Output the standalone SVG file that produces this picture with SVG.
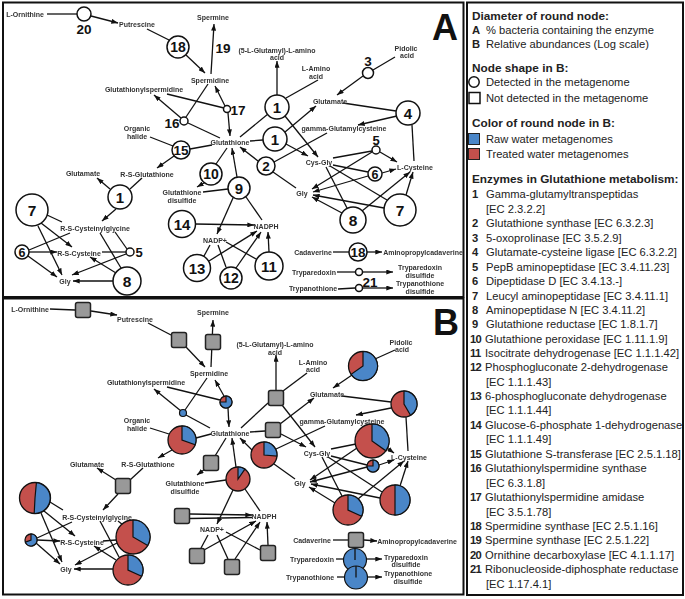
<svg xmlns="http://www.w3.org/2000/svg" width="685" height="599" viewBox="0 0 685 599">
<style>
.frame{fill:none;stroke:#111;stroke-width:2}
.l{stroke:#111;stroke-width:1.3;fill:none}
.a{marker-end:url(#ah)}
.t{font-family:"Liberation Sans",Arial,sans-serif;font-weight:bold;font-size:7px;fill:#333;text-anchor:middle}
.n{font-family:"Liberation Sans",Arial,sans-serif;font-weight:bold;fill:#111;text-anchor:middle}
.c{fill:#fff;stroke:#111;stroke-width:1.5}
.sq{fill:#999;stroke:#222;stroke-width:1.5}
.r{fill:#c4504c;stroke:#111;stroke-width:1.3}
.b{fill:#4a86c8;stroke:#111;stroke-width:1.2}
.big{font-family:"Liberation Sans",Arial,sans-serif;font-weight:bold;font-size:36px;fill:#111}
.lh{font-family:"Liberation Sans",Arial,sans-serif;font-weight:bold;font-size:11.8px;fill:#222}
.li{font-family:"Liberation Sans",Arial,sans-serif;font-size:11.2px;fill:#222}
.lb{font-weight:bold}
.gs{filter:url(#gray)}
</style>
<defs>
<marker id="ah" viewBox="0 0 8 6" refX="8" refY="3" markerWidth="7" markerHeight="5" orient="auto" markerUnits="userSpaceOnUse"><path d="M0,0 L8,3 L0,6 z" fill="#111"/></marker>
<filter id="gray" x="-5%" y="-5%" width="110%" height="110%"><feColorMatrix type="saturate" values="0"/></filter>
</defs>
<rect width="685" height="599" fill="#fff"/>
<rect class="frame" x="3" y="2.5" width="460.5" height="294.5"/>
<rect class="frame" x="3" y="298.5" width="460.5" height="296"/>
<rect class="frame" x="467" y="2.5" width="216" height="592.5"/>
<text class="big" x="432" y="40">A</text>
<text class="big" x="433" y="335">B</text>

<!-- ================= PANEL A connectors ================= -->
<g id="connectors-A">
<line class="l" x1="47" y1="14" x2="77" y2="14"/>
<line class="l a" x1="91" y1="16" x2="118" y2="23"/>
<line class="l" x1="147" y1="29" x2="169" y2="40"/>
<line class="l a" x1="186" y1="55" x2="205" y2="73"/>
<line class="l a" x1="211" y1="74" x2="214" y2="24"/>
<line class="l" x1="167" y1="94" x2="224" y2="108"/>
<line class="l a" x1="181" y1="118" x2="154" y2="95"/>
<line class="l" x1="186" y1="117" x2="208" y2="84"/>
<line class="l a" x1="225" y1="106" x2="215" y2="86"/>
<line class="l a" x1="228" y1="113" x2="230" y2="136"/>
<line class="l" x1="188" y1="123" x2="220" y2="138"/>
<line class="l" x1="150" y1="137" x2="173" y2="146"/>
<line class="l" x1="190" y1="149" x2="212" y2="145"/>
<line class="l a" x1="174" y1="156" x2="157" y2="168"/>
<line class="l" x1="240" y1="137" x2="268" y2="114"/>
<line class="l" x1="250" y1="141" x2="263" y2="140"/>
<line class="l" x1="318" y1="80" x2="286" y2="98"/>
<line class="l a" x1="277" y1="95" x2="277" y2="61"/>
<line class="l a" x1="285" y1="116" x2="318" y2="157"/>
<line class="l a" x1="285" y1="132" x2="316" y2="106"/>
<line class="l a" x1="286" y1="144" x2="308" y2="156"/>
<line class="l a" x1="363" y1="76" x2="337" y2="95"/>
<line class="l" x1="395" y1="57" x2="373" y2="70"/>
<line class="l" x1="343" y1="103" x2="396" y2="111"/>
<line class="l a" x1="397" y1="116" x2="358" y2="125"/>
<line class="l" x1="412" y1="125" x2="414" y2="161"/>
<line class="l" x1="327" y1="133" x2="274" y2="162"/>
<line class="l" x1="296" y1="188" x2="273" y2="172"/>
<line class="l a" x1="258" y1="161" x2="240" y2="147"/>
<line class="l a" x1="237" y1="177" x2="232" y2="148"/>
<line class="l" x1="216" y1="164" x2="227" y2="148"/>
<line class="l a" x1="204" y1="183" x2="197" y2="187"/>
<line class="l" x1="203" y1="192" x2="228" y2="189"/>
<line class="l a" x1="233" y1="198" x2="217" y2="234"/>
<line class="l" x1="262" y1="220" x2="246" y2="197"/>
<line class="l a" x1="195" y1="224" x2="254" y2="225"/>
<line class="l" x1="210" y1="245" x2="204" y2="256"/>
<line class="l" x1="218" y1="245" x2="226" y2="267"/>
<line class="l a" x1="209" y1="261" x2="257" y2="231"/>
<line class="l a" x1="236" y1="268" x2="261" y2="232"/>
<line class="l" x1="226" y1="242" x2="256" y2="259"/>
<line class="l a" x1="269" y1="252" x2="268" y2="232"/>
<line class="l a" x1="110" y1="189" x2="97" y2="178"/>
<line class="l" x1="142" y1="178" x2="130" y2="189"/>
<line class="l a" x1="116" y1="209" x2="102" y2="221"/>
<line class="l" x1="47" y1="215" x2="62" y2="222"/>
<line class="l a" x1="41" y1="223" x2="72" y2="247"/>
<line class="l a" x1="38" y1="226" x2="62" y2="275"/>
<line class="l" x1="29" y1="250" x2="70" y2="233"/>
<line class="l a" x1="29" y1="252" x2="57" y2="252"/>
<line class="l a" x1="28" y1="256" x2="57" y2="277"/>
<line class="l" x1="115" y1="232" x2="127" y2="249"/>
<line class="l" x1="102" y1="252" x2="126" y2="252"/>
<line class="l a" x1="126" y1="254" x2="72" y2="275"/>
<line class="l" x1="100" y1="233" x2="121" y2="268"/>
<line class="l a" x1="116" y1="273" x2="90" y2="257"/>
<line class="l a" x1="113" y1="281" x2="73" y2="281"/>
<line class="l" x1="333" y1="158" x2="372" y2="151"/>
<line class="l a" x1="380" y1="152" x2="397" y2="162"/>
<line class="l a" x1="372" y1="152" x2="312" y2="189"/>
<line class="l" x1="333" y1="165" x2="368" y2="172"/>
<line class="l a" x1="382" y1="173" x2="396" y2="169"/>
<line class="l a" x1="368" y1="176" x2="313" y2="192"/>
<line class="l" x1="330" y1="166" x2="387" y2="200"/>
<line class="l a" x1="406" y1="195" x2="413" y2="172"/>
<line class="l a" x1="384" y1="208" x2="313" y2="195"/>
<line class="l" x1="326" y1="167" x2="347" y2="208"/>
<line class="l a" x1="362" y1="211" x2="410" y2="172"/>
<line class="l a" x1="342" y1="213" x2="312" y2="197"/>
<line class="l" x1="333" y1="252" x2="349" y2="252"/>
<line class="l a" x1="367" y1="252" x2="382" y2="252"/>
<line class="l" x1="337" y1="272" x2="355" y2="272"/>
<line class="l a" x1="363" y1="272" x2="393" y2="272"/>
<line class="l" x1="338" y1="289" x2="355" y2="288"/>
<line class="l a" x1="363" y1="288" x2="393" y2="288"/>
</g>

<!-- ================= PANEL A enzyme nodes ================= -->
<g id="A-e20"><circle class="c" cx="84" cy="14" r="7"/><text class="n" x="84" y="34" font-size="13.5">20</text></g>
<g id="A-e18"><circle class="c" cx="178" cy="47" r="11"/><text class="n" x="178" y="52" font-size="14">18</text></g>
<g id="A-e19"><text class="n" x="223" y="53" font-size="13.5">19</text></g>
<g id="A-e17"><circle class="c" cx="227" cy="109" r="3.5"/><text class="n" x="238" y="115" font-size="13.5">17</text></g>
<g id="A-e16"><circle class="c" cx="184" cy="121" r="4"/><text class="n" x="172" y="128" font-size="13.5">16</text></g>
<g id="A-e15"><circle class="c" cx="181" cy="150" r="9"/><text class="n" x="181" y="155" font-size="13.5">15</text></g>
<g id="A-e1a"><circle class="c" cx="277" cy="107" r="12"/><text class="n" x="277" y="112.5" font-size="15">1</text></g>
<g id="A-e1b"><circle class="c" cx="275" cy="139" r="12"/><text class="n" x="275" y="144.5" font-size="15">1</text></g>
<g id="A-e2"><circle class="c" cx="266" cy="166" r="9"/><text class="n" x="266" y="171" font-size="13.5">2</text></g>
<g id="A-e10"><circle class="c" cx="211" cy="174" r="11"/><text class="n" x="211" y="179" font-size="14">10</text></g>
<g id="A-e9"><circle class="c" cx="239" cy="188" r="11"/><text class="n" x="239" y="193.5" font-size="15">9</text></g>
<g id="A-e3"><circle class="c" cx="368" cy="73" r="5.5"/><text class="n" x="368" y="66" font-size="13.5">3</text></g>
<g id="A-e4"><circle class="c" cx="408" cy="113" r="12"/><text class="n" x="408" y="118.5" font-size="15">4</text></g>
<g id="A-e5r"><circle class="c" cx="376" cy="150" r="4"/><text class="n" x="376" y="145" font-size="13">5</text></g>
<g id="A-e6r"><circle class="c" cx="375" cy="174" r="7"/><text class="n" x="375" y="178.5" font-size="12.5">6</text></g>
<g id="A-e7r"><circle class="c" cx="400" cy="210" r="16"/><text class="n" x="400" y="215.5" font-size="15.5">7</text></g>
<g id="A-e8r"><circle class="c" cx="353" cy="220" r="13"/><text class="n" x="353" y="225.5" font-size="15.5">8</text></g>
<g id="A-e14"><circle class="c" cx="182" cy="224" r="13.5"/><text class="n" x="182" y="229.5" font-size="15">14</text></g>
<g id="A-e13"><circle class="c" cx="197" cy="268" r="13.5"/><text class="n" x="197" y="273.5" font-size="15">13</text></g>
<g id="A-e12"><circle class="c" cx="231" cy="278" r="11"/><text class="n" x="231" y="283" font-size="14">12</text></g>
<g id="A-e11"><circle class="c" cx="269" cy="266" r="14"/><text class="n" x="269" y="271.5" font-size="15">11</text></g>
<g id="A-e1c"><circle class="c" cx="120" cy="197" r="12"/><text class="n" x="120" y="202.5" font-size="15">1</text></g>
<g id="A-e7l"><circle class="c" cx="32" cy="210" r="16"/><text class="n" x="32" y="215.5" font-size="15.5">7</text></g>
<g id="A-e6l"><circle class="c" cx="22" cy="252" r="7"/><text class="n" x="22" y="256.5" font-size="12.5">6</text></g>
<g id="A-e5l"><circle class="c" cx="130" cy="252" r="4"/><text class="n" x="139" y="257" font-size="13">5</text></g>
<g id="A-e8l"><circle class="c" cx="127" cy="281" r="14"/><text class="n" x="127" y="286.5" font-size="15.5">8</text></g>
<g id="A-e18b"><circle class="c" cx="358" cy="252" r="9"/><text class="n" x="358" y="257" font-size="13.5">18</text></g>
<g id="A-e21"><circle class="c" cx="359" cy="272" r="3.5"/><circle class="c" cx="359" cy="288" r="3.5"/><text class="n" x="370" y="287" font-size="13.5">21</text></g>

<!-- ================= PANEL A metabolites ================= -->
<g id="A-metabolites" class="gs">
<text class="t" x="25" y="16.5">L-Ornithine</text>
<text class="t" x="137" y="26.5">Putrescine</text>
<text class="t" x="213" y="19.5">Spermine</text>
<text class="t" x="210" y="82.5">Spermidine</text>
<text class="t" x="144" y="91.5">Glutathionylspermidine</text>
<text class="t" x="277" y="52.5">(5-L-Glutamyl)-L-amino</text>
<text class="t" x="277" y="60">acid</text>
<text class="t" x="316" y="70.5">L-Amino</text>
<text class="t" x="316" y="78.5">acid</text>
<text class="t" x="406" y="50.5">Pidolic</text>
<text class="t" x="407" y="58">acid</text>
<text class="t" x="330" y="103.5">Glutamate</text>
<text class="t" x="344" y="130.5">gamma-Glutamylcysteine</text>
<text class="t" x="137" y="130.5">Organic</text>
<text class="t" x="137" y="138.5">halide</text>
<text class="t" x="230" y="144.5">Glutathione</text>
<text class="t" x="319" y="164.5">Cys-Gly</text>
<text class="t" x="415" y="169.5">L-Cysteine</text>
<text class="t" x="302" y="195.5">Gly</text>
<text class="t" x="182" y="194.5">Glutathione</text>
<text class="t" x="182" y="203">disulfide</text>
<text class="t" x="266" y="228.5">NADPH</text>
<text class="t" x="215" y="242.5">NADP+</text>
<text class="t" x="83" y="175.5">Glutamate</text>
<text class="t" x="147" y="176.5">R-S-Glutathione</text>
<text class="t" x="95" y="230.5">R-S-Cysteinylglycine</text>
<text class="t" x="79" y="255.5">R-S-Cysteine</text>
<text class="t" x="65" y="283.5">Gly</text>
<text class="t" x="313" y="254.5">Cadaverine</text>
<text class="t" x="423" y="254.5">Aminopropylcadaverine</text>
<text class="t" x="314" y="274.5">Tryparedoxin</text>
<text class="t" x="420" y="270">Tryparedoxin</text>
<text class="t" x="420" y="278">disulfide</text>
<text class="t" x="313" y="291">Trypanothione</text>
<text class="t" x="420" y="286">Trypanothione</text>
<text class="t" x="420" y="293.5">disulfide</text>
</g>

<!-- ================= PANEL B connectors ================= -->
<g id="connectors-B">
<line class="l" x1="50" y1="309" x2="75" y2="310"/>
<line class="l a" x1="91" y1="311" x2="117" y2="315"/>
<line class="l" x1="148" y1="323" x2="171" y2="335"/>
<line class="l a" x1="186" y1="347" x2="205" y2="367"/>
<line class="l a" x1="211" y1="367" x2="213" y2="320"/>
<line class="l" x1="167" y1="387" x2="220" y2="400"/>
<line class="l a" x1="181" y1="411" x2="154" y2="389"/>
<line class="l" x1="185" y1="410" x2="207" y2="378"/>
<line class="l a" x1="224" y1="396" x2="215" y2="380"/>
<line class="l a" x1="228" y1="408" x2="229" y2="427"/>
<line class="l" x1="186" y1="415" x2="210" y2="428"/>
<line class="l" x1="150" y1="428" x2="169" y2="434"/>
<line class="l" x1="196" y1="438" x2="211" y2="434"/>
<line class="l a" x1="172" y1="450" x2="158" y2="458"/>
<line class="l" x1="241" y1="428" x2="268" y2="403"/>
<line class="l" x1="250" y1="432" x2="265" y2="431"/>
<line class="l" x1="307" y1="373" x2="283" y2="391"/>
<line class="l a" x1="276" y1="390" x2="276" y2="355"/>
<line class="l a" x1="282" y1="405" x2="315" y2="447"/>
<line class="l a" x1="280" y1="424" x2="314" y2="398"/>
<line class="l a" x1="281" y1="434" x2="306" y2="447"/>
<line class="l a" x1="352" y1="375" x2="333" y2="388"/>
<line class="l" x1="395" y1="350" x2="375" y2="359"/>
<line class="l" x1="342" y1="396" x2="391" y2="402"/>
<line class="l a" x1="391" y1="408" x2="356" y2="415"/>
<line class="l" x1="406" y1="417" x2="408" y2="451"/>
<line class="l" x1="325" y1="426" x2="276" y2="449"/>
<line class="l" x1="295" y1="479" x2="274" y2="464"/>
<line class="l a" x1="252" y1="450" x2="240" y2="438"/>
<line class="l a" x1="236" y1="467" x2="232" y2="438"/>
<line class="l" x1="215" y1="456" x2="226" y2="438"/>
<line class="l a" x1="205" y1="469" x2="197" y2="475"/>
<line class="l" x1="205" y1="483" x2="226" y2="480"/>
<line class="l a" x1="233" y1="490" x2="217" y2="524"/>
<line class="l" x1="260" y1="511" x2="245" y2="489"/>
<line class="l a" x1="190" y1="514" x2="252" y2="515"/>
<line class="l" x1="190" y1="518.5" x2="252" y2="517.5"/>
<line class="l" x1="208" y1="535" x2="201" y2="548"/>
<line class="l" x1="217" y1="535" x2="228" y2="559"/>
<line class="l a" x1="204" y1="550" x2="256" y2="521"/>
<line class="l a" x1="235" y1="559" x2="260" y2="522"/>
<line class="l" x1="226" y1="532" x2="260" y2="550"/>
<line class="l a" x1="268" y1="545" x2="267" y2="522"/>
<line class="l a" x1="116" y1="480" x2="97" y2="468"/>
<line class="l" x1="143" y1="468" x2="130" y2="480"/>
<line class="l a" x1="118" y1="494" x2="103" y2="510"/>
<line class="l" x1="50" y1="502" x2="63" y2="510"/>
<line class="l a" x1="44" y1="511" x2="75" y2="536"/>
<line class="l a" x1="41" y1="513" x2="62" y2="562"/>
<line class="l" x1="37" y1="538" x2="72" y2="522"/>
<line class="l a" x1="37" y1="540" x2="60" y2="541"/>
<line class="l a" x1="36" y1="543" x2="60" y2="564"/>
<line class="l" x1="118" y1="521" x2="123" y2="525"/>
<line class="l" x1="103" y1="541" x2="116" y2="540"/>
<line class="l a" x1="117" y1="543" x2="75" y2="565"/>
<line class="l" x1="100" y1="521" x2="119" y2="557"/>
<line class="l a" x1="116" y1="560" x2="94" y2="546"/>
<line class="l a" x1="113" y1="569" x2="74" y2="569"/>
<line class="l" x1="331" y1="449" x2="356" y2="444"/>
<line class="l a" x1="387" y1="448" x2="394" y2="453"/>
<line class="l a" x1="357" y1="448" x2="310" y2="480"/>
<line class="l" x1="331" y1="456" x2="367" y2="465"/>
<line class="l a" x1="379" y1="465" x2="394" y2="460"/>
<line class="l a" x1="367" y1="467" x2="310" y2="482"/>
<line class="l" x1="328" y1="457" x2="382" y2="492"/>
<line class="l a" x1="400" y1="486" x2="408" y2="461"/>
<line class="l a" x1="380" y1="498" x2="311" y2="484"/>
<line class="l" x1="322" y1="457" x2="342" y2="496"/>
<line class="l a" x1="358" y1="499" x2="404" y2="461"/>
<line class="l a" x1="335" y1="503" x2="309" y2="487"/>
<line class="l" x1="333" y1="540" x2="348" y2="540"/>
<line class="l a" x1="364" y1="540" x2="377" y2="541"/>
<line class="l" x1="336" y1="559" x2="343" y2="559"/>
<line class="l a" x1="367" y1="559" x2="382" y2="559"/>
<line class="l" x1="337" y1="577" x2="344" y2="577"/>
<line class="l a" x1="368" y1="577" x2="382" y2="577"/>
</g>

<!-- ================= PANEL B enzyme nodes ================= -->
<g id="B-e20"><rect class="sq" x="75.5" y="302.5" width="15" height="15" rx="2"/></g>
<g id="B-e18"><rect class="sq" x="171.5" y="332.5" width="15" height="15" rx="2"/></g>
<g id="B-e19"><rect class="sq" x="205.5" y="334.5" width="15" height="15" rx="2"/></g>
<g id="B-e17"><circle class="r" cx="226" cy="402" r="6"/><path class="b" d="M226,402 L226,396 A6,6 0 1 1 220,402 Z"/></g>
<g id="B-e16"><circle class="b" cx="183" cy="413" r="3.5"/></g>
<g id="B-e1a"><rect class="sq" x="268.5" y="390.5" width="15" height="15" rx="2"/></g>
<g id="B-e1b"><rect class="sq" x="265.5" y="422.5" width="15" height="15" rx="2"/></g>
<g id="B-e15"><circle class="r" cx="182" cy="440" r="14"/><path class="b" d="M182,440 L182,426 A14,14 0 0 1 195.2,444.8 Z"/></g>
<g id="B-e2"><circle class="r" cx="264" cy="455" r="13"/><path class="b" d="M264,455 L264,442 A13,13 0 0 1 276.9,456.1 Z"/></g>
<g id="B-e10"><rect class="sq" x="203.5" y="455.5" width="15" height="15" rx="2"/></g>
<g id="B-e9"><circle class="r" cx="238" cy="479" r="12"/><path class="b" d="M238,479 L238,467 A12,12 0 0 1 244.9,469.2 Z"/></g>
<g id="B-e3"><circle class="r" cx="363" cy="366" r="14.5"/><path class="b" d="M363,366 L363,351.5 A14.5,14.5 0 1 1 351.1,374.3 Z"/></g>
<g id="B-e4"><circle class="r" cx="404" cy="404" r="13"/><path class="b" d="M404,404 L404,391 A13,13 0 0 1 410.5,415.3 Z"/></g>
<g id="B-e5r"><circle class="r" cx="372" cy="441" r="17"/><path class="b" d="M372,441 L372,424 A17,17 0 0 1 385.9,450.8 Z"/></g>
<g id="B-e6r"><circle class="r" cx="373" cy="466" r="6"/><path class="b" d="M373,466 L373,460 A6,6 0 1 1 367,466 Z"/></g>
<g id="B-e7r"><circle class="r" cx="395" cy="500" r="15"/><path class="b" d="M395,500 L395,485 A15,15 0 0 1 395,515 Z"/></g>
<g id="B-e8r"><circle class="r" cx="348" cy="510" r="15"/><path class="b" d="M348,510 L348,495 A15,15 0 0 1 361.6,516.3 Z"/></g>
<g id="B-e14"><rect class="sq" x="174.5" y="508.5" width="15" height="15" rx="2"/></g>
<g id="B-e13"><rect class="sq" x="189.5" y="548.5" width="15" height="15" rx="2"/></g>
<g id="B-e12"><rect class="sq" x="224.5" y="559.5" width="15" height="15" rx="2"/></g>
<g id="B-e11"><rect class="sq" x="260.5" y="545.5" width="15" height="15" rx="2"/></g>
<g id="B-e1c"><rect class="sq" x="115.5" y="478.5" width="15" height="15" rx="2"/></g>
<g id="B-e7l"><circle class="r" cx="35" cy="498" r="15.5"/><path class="b" d="M35,498 L36.4,482.6 A15.5,15.5 0 0 1 34.2,513.5 Z"/></g>
<g id="B-e6l"><circle class="r" cx="31" cy="540" r="6"/><path class="b" d="M31,540 L31,534 A6,6 0 1 1 25.4,542.1 Z"/></g>
<g id="B-e5l"><circle class="r" cx="133" cy="537" r="17"/><path class="b" d="M133,537 L133,520 A17,17 0 0 1 147.7,545.5 Z"/></g>
<g id="B-e8l"><circle class="r" cx="128" cy="570" r="15"/><path class="b" d="M128,570 L128,555 A15,15 0 0 1 141.6,576.3 Z"/></g>
<g id="B-e18b"><rect class="sq" x="348.5" y="532.5" width="15" height="15" rx="2"/></g>
<g id="B-e21a"><circle class="b" cx="355" cy="560" r="11.5"/><line class="l" x1="355" y1="548.5" x2="355" y2="560"/></g>
<g id="B-e21b"><circle class="b" cx="356" cy="577.5" r="11.5"/><line class="l" x1="356" y1="566" x2="356" y2="577.5"/></g>

<!-- ================= PANEL B metabolites ================= -->
<g id="B-metabolites" class="gs">
<text class="t" x="30" y="311.5">L-Ornithine</text>
<text class="t" x="135" y="321.5">Putrescine</text>
<text class="t" x="213" y="314.5">Spermine</text>
<text class="t" x="209" y="375.5">Spermidine</text>
<text class="t" x="146" y="384.5">Glutathionylspermidine</text>
<text class="t" x="275" y="346.5">(5-L-Glutamyl)-L-amino</text>
<text class="t" x="275" y="354.5">acid</text>
<text class="t" x="313" y="364.5">L-Amino</text>
<text class="t" x="313" y="372">acid</text>
<text class="t" x="401" y="344.5">Pidolic</text>
<text class="t" x="402" y="352">acid</text>
<text class="t" x="327" y="396.5">Glutamate</text>
<text class="t" x="342" y="423.5">gamma-Glutamylcysteine</text>
<text class="t" x="137" y="422.5">Organic</text>
<text class="t" x="137" y="430.5">halide</text>
<text class="t" x="230" y="435.5">Glutathione</text>
<text class="t" x="317" y="455.5">Cys-Gly</text>
<text class="t" x="409" y="459.5">L-Cysteine</text>
<text class="t" x="300" y="485.5">Gly</text>
<text class="t" x="185" y="485.5">Glutathione</text>
<text class="t" x="185" y="493.5">disulfide</text>
<text class="t" x="264" y="518.5">NADPH</text>
<text class="t" x="212" y="531.5">NADP+</text>
<text class="t" x="87" y="466.5">Glutamate</text>
<text class="t" x="148" y="466.5">R-S-Glutathione</text>
<text class="t" x="97" y="519.5">R-S-Cysteinylglycine</text>
<text class="t" x="82" y="544.5">R-S-Cysteine</text>
<text class="t" x="66" y="571.5">Gly</text>
<text class="t" x="312" y="542.5">Cadaverine</text>
<text class="t" x="417" y="543.5">Aminopropylcadaverine</text>
<text class="t" x="312" y="561.5">Tryparedoxin</text>
<text class="t" x="406" y="559.5">Tryparedoxin</text>
<text class="t" x="406" y="567">disulfide</text>
<text class="t" x="310" y="579.5">Trypanothione</text>
<text class="t" x="408" y="575.5">Trypanothione</text>
<text class="t" x="408" y="583.5">disulfide</text>
</g>

<!-- ================= LEGEND ================= -->
<g id="legend">
<text class="lh" x="472" y="19.5">Diameter of round node:</text>
<text class="li" x="472" y="34"><tspan class="lb">A</tspan></text><text class="li" x="486" y="34">% bacteria containing the enzyme</text>
<text class="li" x="472" y="48"><tspan class="lb">B</tspan></text><text class="li" x="486" y="48">Relative abundances (Log scale)</text>
<text class="lh" x="472" y="71.5">Node shape in B:</text>
<circle cx="474" cy="82" r="5.2" fill="#fff" stroke="#111" stroke-width="1.5"/>
<text class="li" x="486" y="86">Detected in the metagenome</text>
<rect x="469" y="92.5" width="11" height="11" fill="#fff" stroke="#111" stroke-width="1.5"/>
<text class="li" x="486" y="102">Not detected in the metagenome</text>
<text class="lh" x="472" y="126.5">Color of round node in B:</text>
<rect x="468.5" y="133.5" width="11" height="11" fill="#4a86c8" stroke="#222" stroke-width="1"/>
<text class="li" x="486" y="143">Raw water metagenomes</text>
<rect x="468.5" y="148.5" width="11" height="11" fill="#c4504c" stroke="#222" stroke-width="1"/>
<text class="li" x="486" y="158">Treated water metagenomes</text>
<text class="lh" x="472" y="182.5">Enzymes in Glutathione metabolism:</text>
<g class="li">
<text x="472" y="198"><tspan class="lb">1</tspan></text><text x="486" y="198">Gamma-glutamyltranspeptidas</text>
<text x="486" y="212.5">[EC 2.3.2.2]</text>
<text x="472" y="227"><tspan class="lb">2</tspan></text><text x="486" y="227">Glutathione synthase [EC 6.3.2.3]</text>
<text x="472" y="241.5"><tspan class="lb">3</tspan></text><text x="486" y="241.5">5-oxoprolinase [EC 3.5.2.9]</text>
<text x="472" y="256"><tspan class="lb">4</tspan></text><text x="486" y="256">Glutamate-cysteine ligase [EC 6.3.2.2]</text>
<text x="472" y="270.5"><tspan class="lb">5</tspan></text><text x="486" y="270.5">PepB aminopeptidase [EC 3.4.11.23]</text>
<text x="472" y="285"><tspan class="lb">6</tspan></text><text x="486" y="285">Dipeptidase D [EC 3.4.13.-]</text>
<text x="472" y="299.5"><tspan class="lb">7</tspan></text><text x="486" y="299.5">Leucyl aminopeptidase [EC 3.4.11.1]</text>
<text x="472" y="314"><tspan class="lb">8</tspan></text><text x="486" y="314">Aminopeptidase N [EC 3.4.11.2]</text>
<text x="472" y="328"><tspan class="lb">9</tspan></text><text x="486" y="328">Glutathione reductase [EC 1.8.1.7]</text>
<text x="470" y="342.5" letter-spacing="-0.6"><tspan class="lb">10</tspan></text><text x="485" y="342.5">Glutathione peroxidase [EC 1.11.1.9]</text>
<text x="470" y="356.5" letter-spacing="-0.6"><tspan class="lb">11</tspan></text><text x="485" y="356.5">Isocitrate dehydrogenase [EC 1.1.1.42]</text>
<text x="470" y="371" letter-spacing="-0.6"><tspan class="lb">12</tspan></text><text x="485" y="371">Phosphogluconate 2-dehydrogenase</text>
<text x="486" y="385.5">[EC 1.1.1.43]</text>
<text x="470" y="400" letter-spacing="-0.6"><tspan class="lb">13</tspan></text><text x="485" y="400">6-phosphogluconate dehydrogenase</text>
<text x="486" y="414">[EC 1.1.1.44]</text>
<text x="470" y="428.5" letter-spacing="-0.6"><tspan class="lb">14</tspan></text><text x="485" y="428.5">Glucose-6-phosphate 1-dehydrogenase</text>
<text x="486" y="443">[EC 1.1.1.49]</text>
<text x="470" y="457.5" letter-spacing="-0.6"><tspan class="lb">15</tspan></text><text x="485" y="457.5">Glutathione S-transferase [EC 2.5.1.18]</text>
<text x="470" y="472" letter-spacing="-0.6"><tspan class="lb">16</tspan></text><text x="485" y="472">Glutathionylspermidine synthase</text>
<text x="486" y="486.5">[EC 6.3.1.8]</text>
<text x="470" y="501" letter-spacing="-0.6"><tspan class="lb">17</tspan></text><text x="485" y="501">Glutathionylspermidine amidase</text>
<text x="486" y="515.5">[EC 3.5.1.78]</text>
<text x="470" y="530" letter-spacing="-0.6"><tspan class="lb">18</tspan></text><text x="485" y="530">Spermidine synthase [EC 2.5.1.16]</text>
<text x="470" y="544" letter-spacing="-0.6"><tspan class="lb">19</tspan></text><text x="485" y="544">Spermine synthase [EC 2.5.1.22]</text>
<text x="470" y="558.5" letter-spacing="-0.6"><tspan class="lb">20</tspan></text><text x="485" y="558.5">Ornithine decarboxylase [EC 4.1.1.17]</text>
<text x="470" y="573" letter-spacing="-0.6"><tspan class="lb">21</tspan></text><text x="485" y="573">Ribonucleoside-diphosphate reductase</text>
<text x="486" y="587.5">[EC 1.17.4.1]</text>
</g>
</g>
</svg>
